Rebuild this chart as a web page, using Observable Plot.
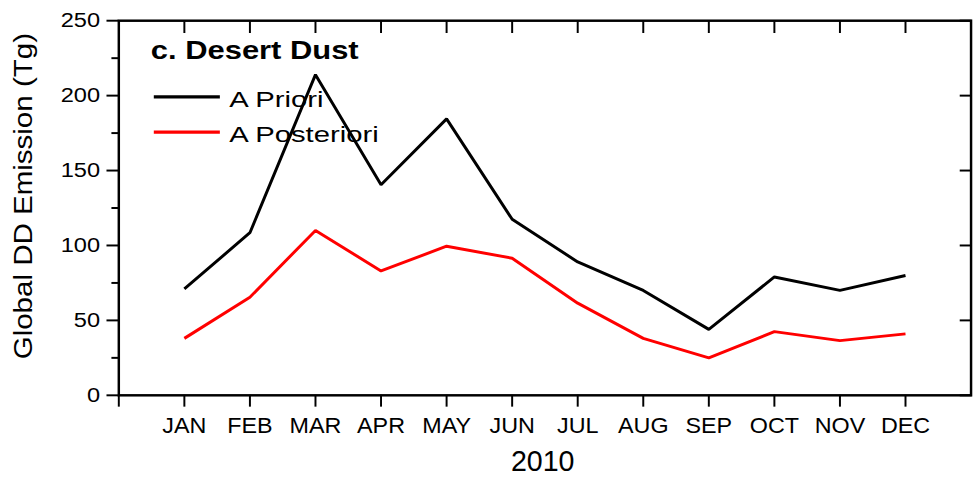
<!DOCTYPE html>
<html>
<head>
<meta charset="utf-8">
<script src="https://cdn.jsdelivr.net/npm/d3@7"></script>
<script src="https://cdn.jsdelivr.net/npm/@observablehq/plot@0.6"></script>
<style>
  html, body { margin: 0; padding: 0; background: #fff; overflow: hidden; }
  #chart { width: 976px; height: 484px; overflow: hidden; }
</style>
</head>
<body>
<div id="chart"></div>
<script>
const months = ["JAN","FEB","MAR","APR","MAY","JUN","JUL","AUG","SEP","OCT","NOV","DEC"];
const series = ["A Priori", "A Posteriori"];
const aPriori =     [71, 108.5, 214, 140.5, 184.5, 117.5, 89, 70, 44, 79, 70, 80];
const aPosteriori = [38, 65.5, 110, 83, 99.5, 91.5, 61.5, 38, 25, 42.5, 36.5, 41];
const yTicks = [0, 50, 100, 150, 200, 250];
const yMinorTicks = [25, 75, 125, 175, 225];
const xTicks = [0, 1, 2, 3, 4, 5, 6, 7, 8, 9, 10, 11, 12];
const monthTicks = [1, 2, 3, 4, 5, 6, 7, 8, 9, 10, 11, 12];
const panelTitle = "c. Desert Dust";
const yLabel = "Global DD Emission (Tg)";
const xLabel = "2010";
const colors = ["#000000", "#ff0000"];

const values = [aPriori, aPosteriori];
const rows = series.flatMap((s, si) => values[si].map((v, i) => ({series: s, month: i + 1, value: v})));

const font = "'Liberation Sans', Arial, Helvetica, sans-serif";

// annotations (panel title, legend, axis titles) placed relative to the frame
function annotations(index, scales, vals, dims) {
  const L = dims.marginLeft, T = dims.marginTop;
  const B = dims.height - dims.marginBottom;
  const g = d3.create("svg:g").attr("aria-label", "annotations")
    .attr("font-family", font).attr("fill", "black");
  g.append("text")
    .attr("transform", `translate(${L + 33},${T + 39.3}) scale(1.23,1)`)
    .attr("text-anchor", "start")
    .attr("font-size", 25.5).attr("font-weight", "bold")
    .text(panelTitle);
  series.forEach((s, i) => {
    const yy = T + 77.8 + i * 35.7;
    g.append("line")
      .attr("x1", L + 36).attr("x2", L + 103)
      .attr("y1", yy).attr("y2", yy)
      .attr("stroke", colors[i]).attr("stroke-width", 3.2);
    g.append("text")
      .attr("transform", `translate(${L + 112.5},${yy + 10}) scale(1.29,1)`)
      .attr("text-anchor", "start")
      .attr("font-size", 23)
      .text(s);
  });
  g.append("text")
    .attr("transform", `translate(32.5,${T + 178.5}) rotate(-90) scale(1.13,1)`)
    .attr("text-anchor", "middle")
    .attr("font-size", 26.5)
    .text(yLabel);
  g.append("text")
    .attr("transform", `translate(${L + 430.5},${B + 77.5})`)
    .attr("text-anchor", "middle")
    .attr("font-size", 29)
    .text(xLabel);
  return g.node();
}

const plot = Plot.plot({
  width: 990,
  height: 484,
  marginLeft: 120,
  marginRight: 5.5,
  marginTop: 20.5,
  marginBottom: 83.5,
  style: {fontFamily: font, background: "white", color: "black", overflow: "visible"},
  x: {domain: [0, 13], axis: null},
  y: {domain: [0, 250], axis: null},
  color: {domain: series, range: colors},
  marks: [
    Plot.axisY({ticks: yTicks, tickSize: 12, tickPadding: 7, fontSize: 21, label: null, strokeWidth: 2}),
    Plot.axisY({ticks: yMinorTicks, tickSize: 7, text: null, label: null, strokeWidth: 2}),
    Plot.axisY({anchor: "right", ticks: yTicks, tickSize: -12, text: null, label: null, strokeWidth: 2}),
    Plot.axisX({ticks: xTicks, tickSize: 12, tickPadding: 10.5, fontSize: 21.5, tickFormat: i => months[i - 1] ?? "", label: null, strokeWidth: 2}),
    Plot.axisX({anchor: "top", ticks: monthTicks, tickSize: -12, text: null, label: null, strokeWidth: 2}),
    Plot.frame({stroke: "black", strokeWidth: 2.5}),
    Plot.line(rows, {x: "month", y: "value", z: "series", stroke: "series", strokeWidth: 3, strokeLinejoin: "miter", strokeLinecap: "butt"}),
    annotations
  ]
});

document.getElementById("chart").appendChild(plot);

// horizontal glyph stretch of tick labels to mimic the wide export font
function stretchTickLabels(axis, sx) {
  plot.querySelectorAll(`g[aria-label="${axis}-axis tick label"] text`).forEach(t => {
    const tr = t.getAttribute("transform");
    if (tr) t.setAttribute("transform", tr + ` scale(${sx},1)`);
  });
}
stretchTickLabels("y", 1.14);
stretchTickLabels("x", 1.1);
</script>
</body>
</html>
